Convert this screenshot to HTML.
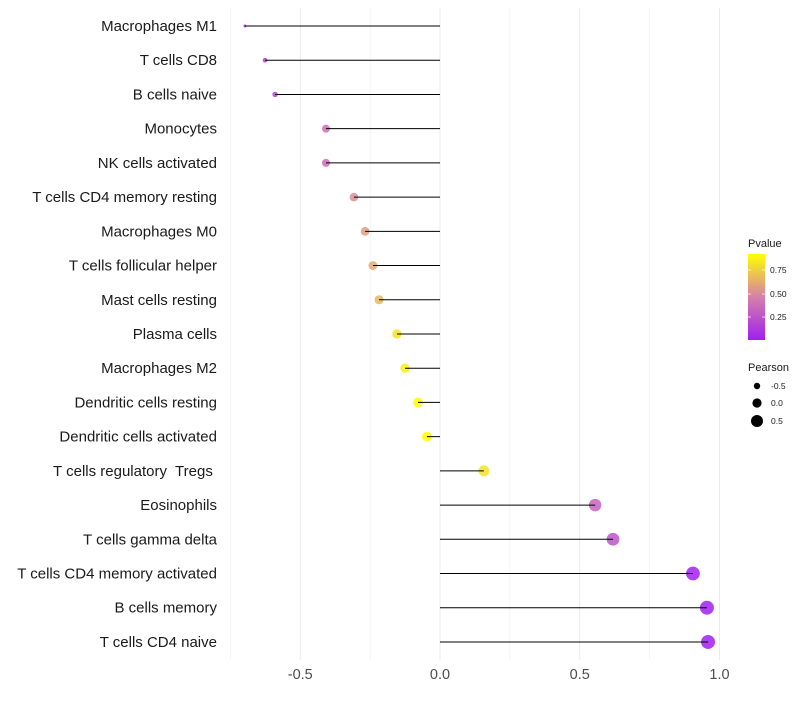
<!DOCTYPE html>
<html><head><meta charset="utf-8"><style>
body{margin:0;background:#fff;font-family:"Liberation Sans",sans-serif}
text{white-space:pre}
</style></head><body>
<svg id="chart" width="800" height="700" xmlns="http://www.w3.org/2000/svg" font-family="Liberation Sans, sans-serif"></svg>
<script>
const categories=["Macrophages M1","T cells CD8","B cells naive","Monocytes","NK cells activated","T cells CD4 memory resting","Macrophages M0","T cells follicular helper","Mast cells resting","Plasma cells","Macrophages M2","Dendritic cells resting","Dendritic cells activated","T cells regulatory  Tregs ","Eosinophils","T cells gamma delta","T cells CD4 memory activated","B cells memory","T cells CD4 naive"];
const pearson=[-0.698,-0.626,-0.59,-0.408,-0.408,-0.308,-0.268,-0.24,-0.218,-0.154,-0.125,-0.079,-0.047,0.157,0.555,0.619,0.905,0.955,0.959];
const pvalue=[0.12,0.18,0.2,0.4,0.4,0.55,0.6,0.65,0.7,0.85,0.9,0.95,0.98,0.85,0.35,0.28,0.05,0.04,0.04];
const xTicks=[-0.5,0,0.5,1];
const xTickLabels=["-0.5","0.0","0.5","1.0"];
const NS="http://www.w3.org/2000/svg";
const svg=document.getElementById('chart');
const x=v=>440+v*279.5;
const y=i=>26+i*34.22;
const r=v=>{const d=v+0.408;return Math.sqrt(Math.max(1.5,16+(d<0?48:24)*d));};
function col(p){
  const t=Math.max(0,Math.min(1,(p-0.04)/0.91));
  const a=[160,32,240],m=[214,128,168],b=[255,255,0];
  let c;
  if(t<0.5){const s=t/0.5;c=a.map((v,k)=>Math.round(v+(m[k]-v)*s));}
  else{const s=(t-0.5)/0.5;c=m.map((v,k)=>Math.round(v+(b[k]-v)*s));}
  return `rgb(${c[0]},${c[1]},${c[2]})`;
}
function el(tag,attrs,parent){const e=document.createElementNS(NS,tag);for(const k in attrs)e.setAttribute(k,attrs[k]);(parent||svg).appendChild(e);return e;}
[-0.75,-0.25,0.25,0.75].forEach(v=>{const g=el('line',{x1:x(v),x2:x(v),y1:8,y2:660,stroke:'#f2f2f2','stroke-width':0.8});

});
xTicks.forEach((v,i)=>{const g=el('line',{x1:x(v),x2:x(v),y1:8,y2:660,stroke:'#ebebeb','stroke-width':1});


const t=el('text',{x:x(v),y:679,'text-anchor':'middle','font-size':14.5,fill:'#4d4d4d'});t.textContent=xTickLabels[i];

});
categories.forEach((c,i)=>{
  const t=el('text',{x:217,y:y(i)+5,'text-anchor':'end','font-size':15,fill:'#1a1a1a'});t.textContent=c;
  
  
  const p=el('circle',{cx:x(pearson[i]),cy:y(i),r:r(pearson[i]),fill:col(pvalue[i]),opacity:0.85});
  
  
  const s=el('line',{x1:x(0),x2:x(pearson[i]),y1:y(i),y2:y(i),stroke:'#000','stroke-width':1});
  
  
});
</script>
<svg width="800" height="700" style="position:absolute;left:0;top:0" font-family="Liberation Sans, sans-serif">
<defs><linearGradient id="g" x1="0" y1="1" x2="0" y2="0"><stop offset="0" stop-color="#a020f0"/><stop offset="0.5" stop-color="#d680a8"/><stop offset="1" stop-color="#ffff00"/></linearGradient></defs>
<text x="748" y="247" font-size="11" fill="#1a1a1a">Pvalue</text>
<rect x="748" y="254" width="17" height="86" fill="url(#g)"/>
<g stroke="#fff" stroke-width="1" opacity="0.7"><line x1="748" x2="751" y1="270" y2="270"/><line x1="762" x2="765" y1="270" y2="270"/><line x1="748" x2="751" y1="294" y2="294"/><line x1="762" x2="765" y1="294" y2="294"/><line x1="748" x2="751" y1="317" y2="317"/><line x1="762" x2="765" y1="317" y2="317"/></g>
<g font-size="8.5" fill="#1a1a1a"><text x="770" y="273">0.75</text><text x="770" y="297">0.50</text><text x="770" y="320">0.25</text></g>
<text x="748" y="371" font-size="11" fill="#1a1a1a">Pearson</text>
<circle cx="757" cy="386" r="3.2" fill="#000"/><circle cx="757" cy="403" r="4.6" fill="#000"/><circle cx="757" cy="421" r="6" fill="#000"/>
<g font-size="8.5" fill="#1a1a1a"><text x="771" y="389">-0.5</text><text x="771" y="406">0.0</text><text x="771" y="424">0.5</text></g>
</svg>
</body></html>
